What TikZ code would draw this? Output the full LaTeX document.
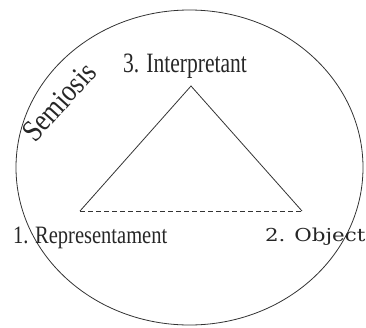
\documentclass[tikz,border=0pt]{standalone}
\usepackage{fontspec}
\usepackage{graphicx}
\setmainfont{Liberation Serif}
\newfontfamily\objfont{DejaVu Serif}
\begin{document}
\begin{tikzpicture}[x=1pt,y=-1pt,
  edge/.style={draw=black!80,line width=0.8pt},
  dashedge/.style={draw=black!80,line width=0.8pt,dash pattern=on 4.5pt off 3.5pt},
  lbl/.style={inner sep=0pt,outer sep=0pt,text=black!85}]
\useasboundingbox (0,0) rectangle (366,327);
\draw[edge] (189.5,167.5) ellipse [x radius=173.5pt, y radius=157.5pt];
\coordinate (R) at (80,211);
\coordinate (O) at (302,211);
\coordinate (I) at (191,86);
\draw[edge] (R) -- (I) -- (O);
\draw[dashedge] (R) -- (O);
\node[lbl,anchor=base west] (tI) at (123,72) {\fontsize{28}{32}\selectfont\scalebox{0.77}[1]{3. Interpretant}};
\node[lbl,anchor=base west] (tR) at (13,243) {\fontsize{25}{30}\selectfont\scalebox{0.82}[1]{1. Representament}};
\node[lbl,anchor=base west] (tO) at (265,241) {\objfont\fontsize{17.8}{22}\selectfont\scalebox{1.2}[1]{2. Object}};
\node[lbl,rotate=48] (tS) at (59,102) {\fontsize{31}{36}\selectfont\scalebox{0.84}[1]{Semiosis}};
\end{tikzpicture}
\end{document}
